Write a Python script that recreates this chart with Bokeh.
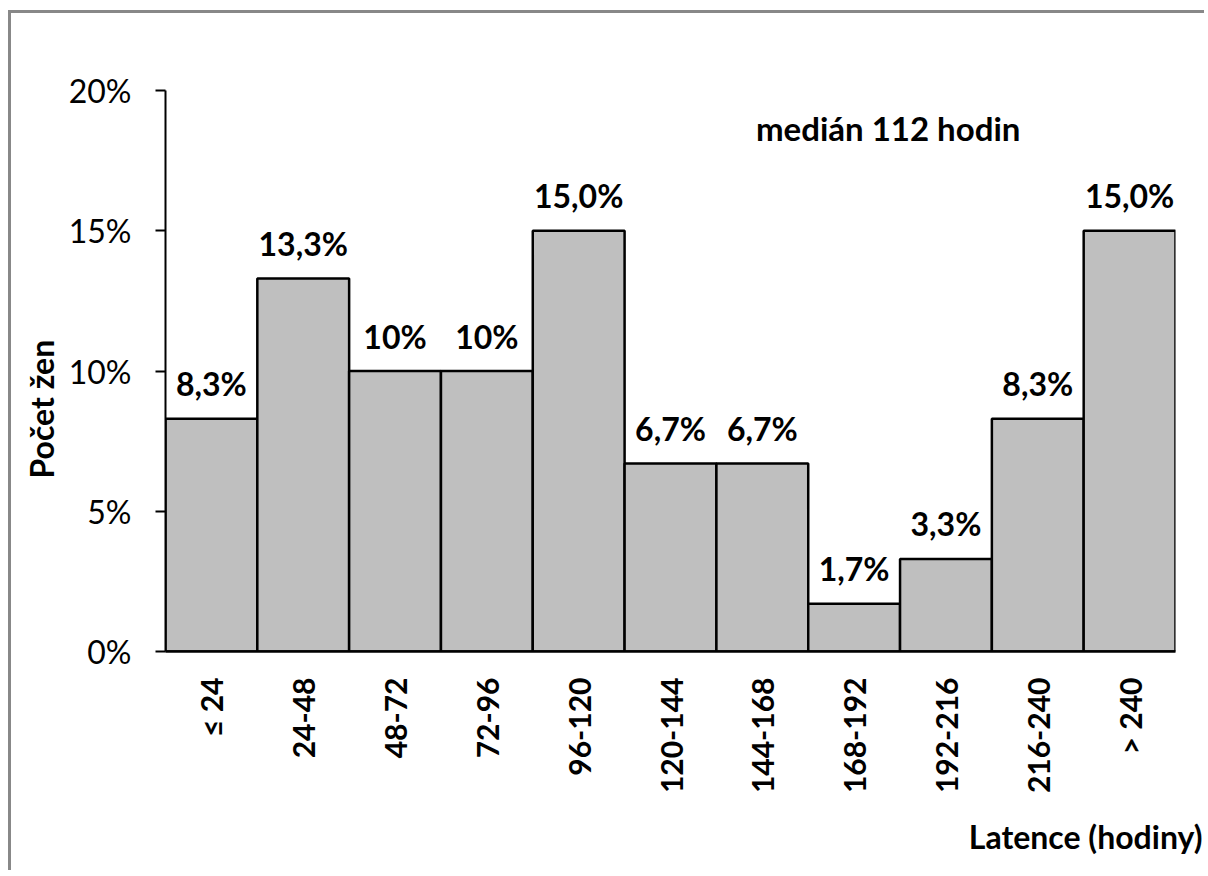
import math
from bokeh.plotting import figure
from bokeh.models import ColumnDataSource, Range1d, FixedTicker, NumeralTickFormatter, Label, Title
from bokeh.core.properties import value
from bokeh.embed import file_html
from bokeh.resources import INLINE

categories = ["≤ 24", "24-48", "48-72", "72-96", "96-120", "120-144", "144-168",
              "168-192", "192-216", "216-240", "> 240"]
shares = [0.083, 0.133, 0.10, 0.10, 0.15, 0.067, 0.067, 0.017, 0.033, 0.083, 0.15]
share_labels = ["8,3%", "13,3%", "10%", "10%", "15,0%", "6,7%", "6,7%", "1,7%",
                "3,3%", "8,3%", "15,0%"]
y_ticks = [0, 0.05, 0.10, 0.15, 0.20]

FONT = "Lato"

src = ColumnDataSource(dict(cat=categories, val=shares, lab=share_labels))

p = figure(x_range=categories, y_range=Range1d(0, 0.2), width=1196, height=860,
           output_backend="svg", toolbar_location=None,
           min_border_left=154, min_border_top=77, min_border_right=32, min_border_bottom=216)
p.x_range.range_padding = 0
p.styles = {"border-left": "3px solid #888888", "border-top": "3px solid #888888",
            "margin-left": "8px", "margin-top": "10px"}
p.outline_line_color = None
p.xgrid.grid_line_color = None
p.ygrid.grid_line_color = None
p.background_fill_color = "white"
p.border_fill_color = "white"

p.vbar(x="cat", top="val", width=1.0, source=src, fill_color="#bfbfbf",
       line_color="black", line_width=2.5)

p.text(x="cat", y="val", text="lab", source=src, text_align="center",
       text_baseline="alphabetic", y_offset=-35, text_font=value(FONT),
       text_font_style="bold", text_font_size="32px", text_color="black")

# Axes
yax = p.yaxis[0]
yax.ticker = FixedTicker(ticks=y_ticks)
yax.formatter = NumeralTickFormatter(format="0%")
yax.major_tick_out = 10
yax.major_tick_in = 0
yax.minor_tick_line_color = None
yax.axis_line_width = 2
yax.major_tick_line_width = 2
yax.axis_line_color = "black"
yax.major_label_text_font = FONT
yax.major_label_text_font_size = "32px"
yax.major_label_text_color = "black"
yax.major_label_standoff = 24

xax = p.xaxis[0]
xax.major_tick_line_color = None
xax.axis_line_width = 2.5
xax.axis_line_color = "black"
xax.major_label_orientation = math.pi / 2
xax.major_label_text_font = FONT
xax.major_label_text_font_style = "bold"
xax.major_label_text_font_size = "30px"
xax.major_label_text_color = "black"
xax.major_label_standoff = 20

p.add_layout(Label(x=6.43, y=0.1865, text="medián 112 hodin", text_font=FONT,
                   text_font_style="bold", text_font_size="33px", text_align="left",
                   text_baseline="alphabetic", text_color="black"))

p.add_layout(Title(text="Latence (hodiny)", align="right", offset=-27, standoff=36,
                   text_font=FONT, text_font_style="bold", text_font_size="32px",
                   text_color="black"), "below")
p.add_layout(Title(text="Počet žen", align="left", offset=173, standoff=10,
                   text_font=FONT, text_font_style="bold", text_font_size="32px",
                   text_color="black"), "left")

open("out.html", "w").write(file_html(p, INLINE))
